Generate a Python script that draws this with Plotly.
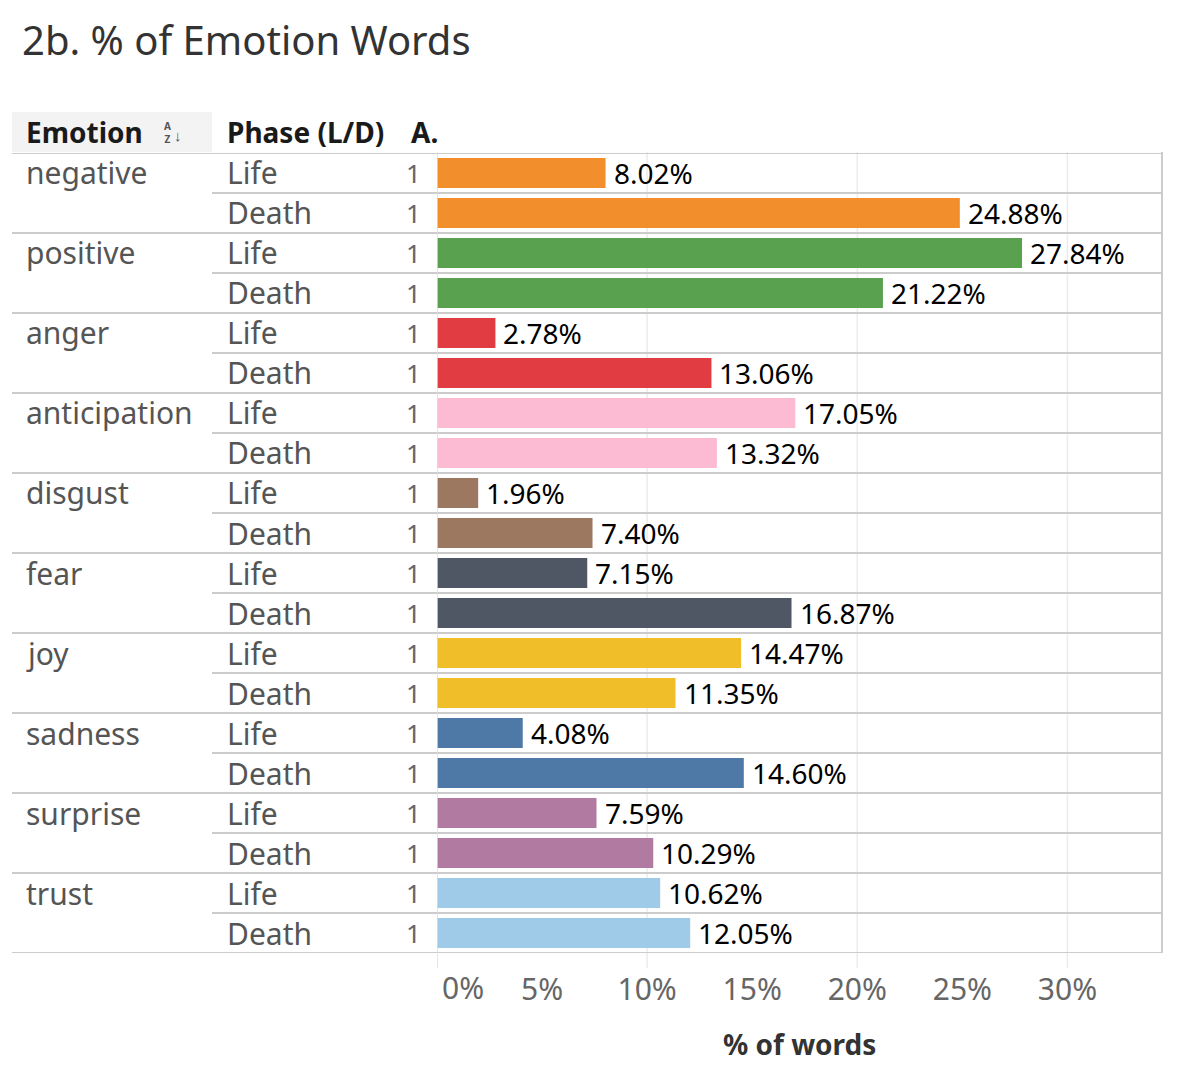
import plotly.graph_objects as go

# data
emotions = ["negative", "positive", "anger", "anticipation", "disgust",
            "fear", "joy", "sadness", "surprise", "trust"]
phases = ["Life", "Death"]
life_pct = [8.02, 27.84, 2.78, 17.05, 1.96, 7.15, 14.47, 4.08, 7.59, 10.62]
death_pct = [24.88, 21.22, 13.06, 13.32, 7.40, 16.87, 11.35, 14.60, 10.29, 12.05]
colors = ["#F28E2B", "#59A14F", "#E03C42", "#FDBBD3", "#9C7860",
          "#4F5765", "#F0BE28", "#4E79A7", "#B07AA1", "#A0CBE8"]
tick_vals = [0, 5, 10, 15, 20, 25, 30]
grid_vals = [10, 20, 30]

# page has an 8px body margin, so the figure is a bit smaller and shifted
OFF = 8
W, H = 1190 - 2 * OFF, 1082 - 2 * OFF
FONT = "Noto Sans"


def px(x):
    return (x - OFF) / W


def py(y):
    return 1 - (y - OFF) / H


# one row per emotion/phase pair
rows_y, rows_x, rows_c, rows_phase = [], [], [], []
for i, emo in enumerate(emotions):
    for j, val in enumerate([life_pct[i], death_pct[i]]):
        rows_y.append(2 * i + j)
        rows_x.append(val)
        rows_c.append(colors[i])
        rows_phase.append(phases[j])
n_rows = len(rows_y)

fig = go.Figure()
fig.add_trace(go.Bar(
    x=rows_x, y=rows_y, orientation="h", width=0.75,
    marker=dict(color=rows_c, line=dict(width=0)),
    hoverinfo="skip",
))

ann = []
shapes = []

# title
ann.append(dict(text="2b. % of Emotion Words", x=px(20), y=py(40), xref="paper", yref="paper",
                xanchor="left", yanchor="middle", showarrow=False,
                font=dict(family=FONT, size=40, color="#333333")))

# header
shapes.append(dict(type="rect", xref="paper", yref="paper", x0=px(12), x1=px(212),
                   y0=py(112), y1=py(152), fillcolor="#f3f3f3", line=dict(width=0), layer="below"))
for txt, x in [("Emotion", 24), ("Phase (L/D)", 225), ("A.", 409)]:
    ann.append(dict(text=f"<b>{txt}</b>", x=px(x), y=py(132), xref="paper", yref="paper",
                    xanchor="left", yanchor="middle", showarrow=False,
                    font=dict(family=FONT, size=28, color="#1a1a1a")))
# sort icon
ann.append(dict(text="<b>A</b><br><b>Z</b>", x=px(167), y=py(133), xref="paper", yref="paper",
                xanchor="center", yanchor="middle", showarrow=False,
                font=dict(family=FONT, size=10, color="#555555")))
ann.append(dict(text="<b>↓</b>", x=px(178), y=py(135), xref="paper", yref="paper",
                xanchor="center", yanchor="middle", showarrow=False,
                font=dict(family=FONT, size=15, color="#555555")))

# row labels and bar labels
for k in range(n_rows):
    yv = rows_y[k]
    if k % 2 == 0:
        ann.append(dict(text=emotions[k // 2], x=px(24), y=yv, xref="paper", yref="y",
                        xanchor="left", yanchor="middle", showarrow=False,
                        font=dict(family=FONT, size=30, color="#555555")))
    ann.append(dict(text=rows_phase[k], x=px(225), y=yv, xref="paper", yref="y",
                    xanchor="left", yanchor="middle", showarrow=False,
                    font=dict(family=FONT, size=30, color="#555555")))
    ann.append(dict(text="1", x=px(423), y=yv, xref="paper", yref="y",
                    xanchor="right", yanchor="middle", showarrow=False,
                    font=dict(family=FONT, size=26, color="#666666")))
    ann.append(dict(text=f"{rows_x[k]:.2f}%", x=rows_x[k], y=yv, xref="x", yref="y",
                    xanchor="left", yanchor="middle", xshift=6, showarrow=False,
                    font=dict(family=FONT, size=28, color="#000000")))

# separators
for k in range(n_rows + 1):
    yb = k - 0.5
    x0 = 12 if k % 2 == 0 else 212
    shapes.append(dict(type="line", xref="paper", yref="y", x0=px(x0), x1=px(1162),
                       y0=yb, y1=yb, line=dict(color="#cccccc", width=2)))

# gridlines / borders
for g in grid_vals:
    shapes.append(dict(type="line", xref="x", yref="paper", x0=g, x1=g,
                       y0=py(968), y1=py(152), line=dict(color="#ececec", width=1.5), layer="below"))
shapes.append(dict(type="line", xref="x", yref="paper", x0=0, x1=0,
                   y0=py(968), y1=py(152), line=dict(color="#dddddd", width=1.5)))
shapes.append(dict(type="line", xref="paper", yref="paper", x0=px(1162), x1=px(1162),
                   y0=py(953), y1=py(152), line=dict(color="#cccccc", width=2)))

# x tick labels ("0%" is nudged inside like the original)
ann.append(dict(text=f"{tick_vals[0]}%", x=tick_vals[0], y=py(987), xref="x", yref="paper",
                xanchor="left", yanchor="middle", xshift=3, showarrow=False,
                font=dict(family=FONT, size=30, color="#666666")))
ann.append(dict(text="<b>% of words</b>", x=px(799), y=py(1044), xref="paper", yref="paper",
                xanchor="center", yanchor="middle", showarrow=False,
                font=dict(family=FONT, size=28, color="#333333")))

fig.update_layout(
    width=W, height=H,
    margin=dict(l=0, r=0, t=0, b=0),
    paper_bgcolor="white", plot_bgcolor="white",
    showlegend=False,
    annotations=ann,
    shapes=shapes,
    xaxis=dict(domain=[px(437), px(1162)], range=[0, 34.5], showgrid=False, zeroline=False,
               tickvals=tick_vals[1:], ticktext=[f"{v}%" for v in tick_vals[1:]],
               ticks="", ticklabelstandoff=16,
               tickfont=dict(family=FONT, size=30, color="#666666"), fixedrange=True),
    yaxis=dict(domain=[py(953), py(153)], range=[n_rows - 0.5, -0.5], showgrid=False,
               zeroline=False, showticklabels=False, fixedrange=True),
    font=dict(family=FONT),
)

fig.write_html("out.html")
